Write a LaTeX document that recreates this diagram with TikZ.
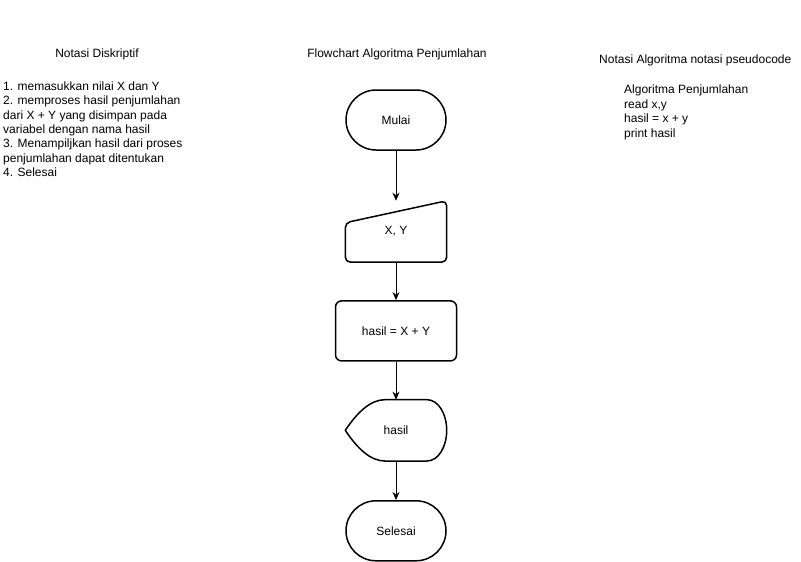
\documentclass[tikz,border=0pt]{standalone}
\usepackage{fontspec}
\setmainfont{Liberation Sans}
\usetikzlibrary{arrows.meta,positioning}
\tikzstyle{flow}=[every edge/.style={draw,-{Stealth[length=8pt,width=7pt,inset=2.5pt]},line width=1pt}]
\tikzstyle{term}=[draw,rounded corners=30pt,minimum width=100pt,minimum height=60pt,line width=1.5pt]
\tikzstyle{proc}=[draw,rounded corners=6pt,minimum width=121pt,minimum height=60pt,line width=1.5pt]
\tikzstyle{shp}=[minimum width=101pt,minimum height=61pt,inner sep=0]
\tikzstyle{outl}=[draw,line width=1.5pt,line join=round]
\tikzstyle{txt}=[inner sep=0,align=left]
\begin{document}
\begin{tikzpicture}[x=1pt,y=-1pt,flow,every node/.style={font=\fontsize{12}{14.4}\selectfont}]
  \useasboundingbox (0,0) rectangle (801,562);

  % titles
  \node (tdesc) at (97,54) {Notasi Diskriptif};
  \node (tflow) at (397,54) {Flowchart Algoritma Penjumlahan};
  \node[anchor=west,inner sep=0] (tpseudo) at (599,60) {Notasi Algoritma notasi pseudocode};

  \node[txt,anchor=north west] (desc) at (3,81.5) {1. memasukkan nilai X dan Y\\
    2. memproses hasil penjumlahan\\ dari X + Y yang disimpan pada\\
    variabel dengan nama hasil\\ 3. Menampiljkan hasil dari proses\\
    penjumlahan dapat ditentukan\\ 4. Selesai};
  \node[txt,anchor=north west] (pseudo) at (624,85) {Algoritma Penjumlahan\\ read x,y\\
    hasil = x + y\\ print hasil};

  % flowchart
  \node[term] (mulai) at (396,120) {Mulai};
  \node[shp,below=50pt of mulai] (xy) {X, Y};
  \node[proc,below=38pt of xy] (hitung) {hasil = X + Y};
  \node[shp,below=38pt of hitung] (hasil) {hasil};
  \node[term,below=39pt of hasil] (selesai) {Selesai};

  \draw[outl,rounded corners=5pt] (xy.south west) -- ([yshift=-22pt]xy.north west)
    -- (xy.north east) -- (xy.south east) -- cycle;
  \draw[outl] (hasil.west) .. controls ([xshift=12pt,yshift=18pt]hasil.west) and ([xshift=25pt]hasil.north west)
    .. ([xshift=40pt]hasil.north west) -- ([xshift=-20pt]hasil.north east)
    .. controls ([xshift=-8pt]hasil.north east) and ([yshift=16pt]hasil.east) .. (hasil.east)
    .. controls ([yshift=-16pt]hasil.east) and ([xshift=-8pt]hasil.south east)
    .. ([xshift=-20pt]hasil.south east) -- ([xshift=40pt]hasil.south west)
    .. controls ([xshift=25pt]hasil.south west) and ([xshift=12pt,yshift=-18pt]hasil.west) .. cycle;

  \path (mulai) edge (xy)
        (xy) edge (hitung)
        (hitung) edge (hasil)
        (hasil) edge (selesai);
\end{tikzpicture}
\end{document}
